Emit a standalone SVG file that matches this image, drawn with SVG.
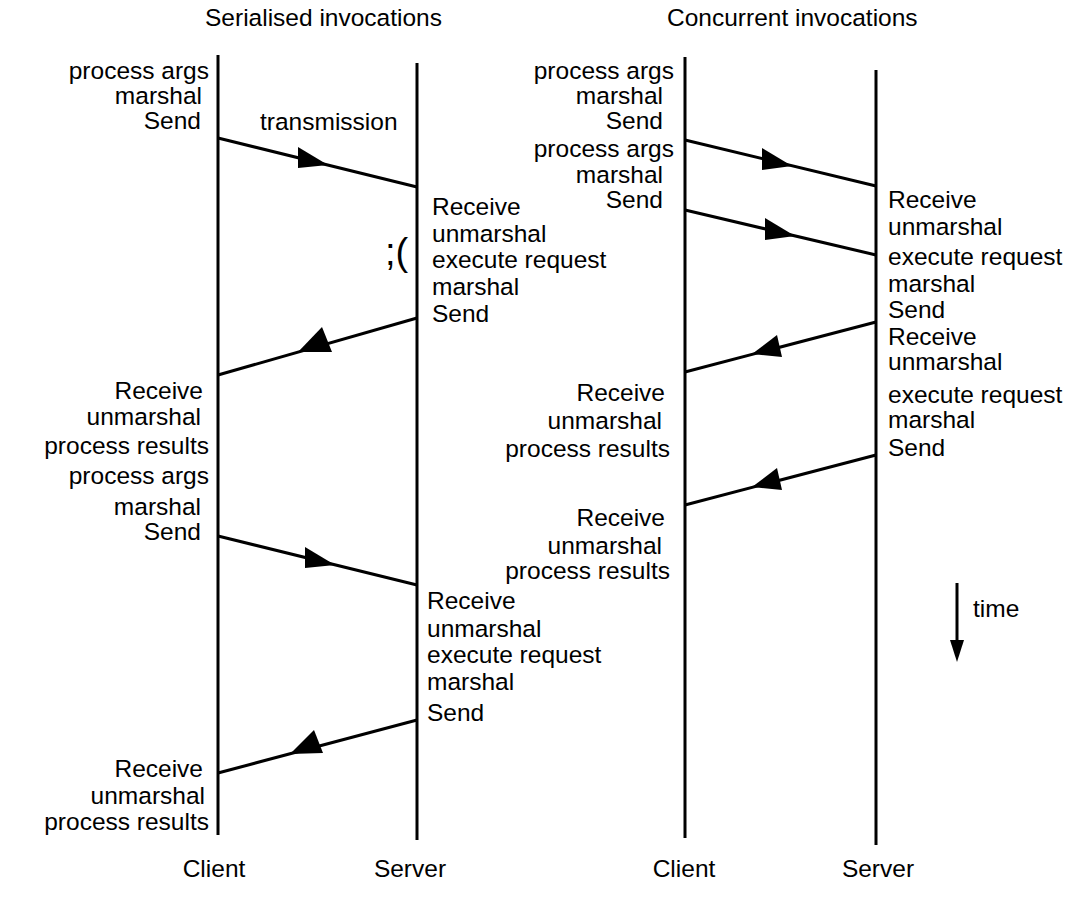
<svg xmlns="http://www.w3.org/2000/svg" width="1084" height="900" viewBox="0 0 1084 900">
<style>
text{font-family:"Liberation Sans",Arial,sans-serif;font-size:24.5px;fill:#000}
.r{text-anchor:end}
.m{text-anchor:middle}
.ln{stroke:#000;stroke-width:3;fill:none}
.ah{fill:#000;stroke:none}
</style>
<rect width="1084" height="900" fill="#fff"/>
<g id="titles">
<text x="205" y="26">Serialised invocations</text>
<text x="667" y="26">Concurrent invocations</text>
</g>
<g id="lifelines">
<line class="ln" x1="218" y1="55" x2="218" y2="835"/>
<line class="ln" x1="417" y1="63" x2="417" y2="840"/>
<line class="ln" x1="685" y1="57" x2="685" y2="838"/>
<line class="ln" x1="876" y1="70" x2="876" y2="845"/>
</g>
<g id="connectors">
<line class="ln" x1="218" y1="138" x2="417" y2="187"/>
<polygon class="ah" points="298,147 328,165 298,168"/>
<line class="ln" x1="417" y1="318" x2="218" y2="375"/>
<polygon class="ah" points="298,352 322,327 332,352"/>
<line class="ln" x1="218" y1="536" x2="417" y2="585"/>
<polygon class="ah" points="305,547 335,565 305,568"/>
<line class="ln" x1="417" y1="720" x2="218" y2="773"/>
<polygon class="ah" points="290,754 314,730 323,753"/>
<line class="ln" x1="685" y1="140" x2="876" y2="186"/>
<polygon class="ah" points="762,148 792,166 762,170"/>
<line class="ln" x1="685" y1="210" x2="876" y2="255"/>
<polygon class="ah" points="765,218 795,236 765,240"/>
<line class="ln" x1="876" y1="322" x2="685" y2="372"/>
<polygon class="ah" points="752,354 777,335 782,357"/>
<line class="ln" x1="876" y1="455" x2="685" y2="505"/>
<polygon class="ah" points="752,487 777,468 782,490"/>
<line class="ln" x1="957" y1="583" x2="957" y2="645"/>
<polygon class="ah" points="950,640 964,640 957,662"/>
</g>
<g id="serial-client">
<text class="r" x="209" y="79">process args</text>
<text class="r" x="202" y="104">marshal</text>
<text class="r" x="201" y="129">Send</text>
<text class="r" x="203" y="399">Receive</text>
<text class="r" x="201" y="425">unmarshal</text>
<text class="r" x="209" y="454">process results</text>
<text class="r" x="209" y="484">process args</text>
<text class="r" x="201" y="515">marshal</text>
<text class="r" x="201" y="540">Send</text>
<text class="r" x="203" y="777">Receive</text>
<text class="r" x="205" y="804">unmarshal</text>
<text class="r" x="209" y="830">process results</text>
</g>
<g id="serial-server">
<text x="260" y="130">transmission</text>
<text x="385" y="265" style="font-size:38px">;(</text>
<text x="432" y="215">Receive</text>
<text x="432" y="242">unmarshal</text>
<text x="432" y="268">execute request</text>
<text x="432" y="295">marshal</text>
<text x="432" y="322">Send</text>
<text x="427" y="609">Receive</text>
<text x="427" y="637">unmarshal</text>
<text x="427" y="663">execute request</text>
<text x="427" y="690">marshal</text>
<text x="427" y="721">Send</text>
</g>
<g id="concurrent-client">
<text class="r" x="674" y="79">process args</text>
<text class="r" x="663" y="104">marshal</text>
<text class="r" x="663" y="129">Send</text>
<text class="r" x="674" y="157">process args</text>
<text class="r" x="663" y="183">marshal</text>
<text class="r" x="663" y="208">Send</text>
<text class="r" x="665" y="401">Receive</text>
<text class="r" x="662" y="429">unmarshal</text>
<text class="r" x="670" y="457">process results</text>
<text class="r" x="665" y="526">Receive</text>
<text class="r" x="662" y="554">unmarshal</text>
<text class="r" x="670" y="579">process results</text>
</g>
<g id="concurrent-server">
<text x="888" y="208">Receive</text>
<text x="888" y="235">unmarshal</text>
<text x="888" y="265">execute request</text>
<text x="888" y="292">marshal</text>
<text x="888" y="318">Send</text>
<text x="888" y="345">Receive</text>
<text x="888" y="370">unmarshal</text>
<text x="888" y="403">execute request</text>
<text x="888" y="428">marshal</text>
<text x="888" y="456">Send</text>
</g>
<g id="time">
<text x="973" y="617">time</text>
</g>
<g id="labels">
<text class="m" x="214" y="877">Client</text>
<text class="m" x="410" y="877">Server</text>
<text class="m" x="684" y="877">Client</text>
<text class="m" x="878" y="877">Server</text>
</g>
</svg>
